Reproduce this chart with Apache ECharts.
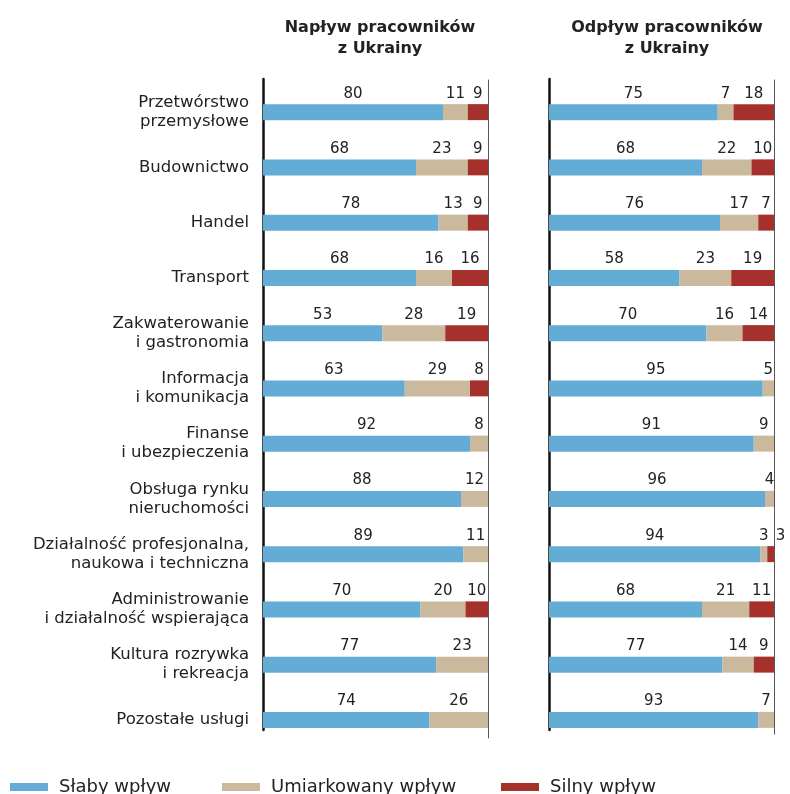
<!DOCTYPE html>
<html><head><meta charset="utf-8">
<script src="https://cdn.jsdelivr.net/npm/echarts@6/dist/echarts.min.js"></script>
<style>html,body{margin:0;padding:0;background:#fff}#c{width:790px;height:794px}</style>
</head><body><div id="c"></div>
<script>
const categories = ['Przetwórstwo\nprzemysłowe','Budownictwo','Handel','Transport','Zakwaterowanie\ni gastronomia','Informacja\ni komunikacja','Finanse\ni ubezpieczenia','Obsługa rynku\nnieruchomości','Działalność profesjonalna,\nnaukowa i techniczna','Administrowanie\ni działalność wspierająca','Kultura rozrywka\ni rekreacja','Pozostałe usługi'];
const seriesNames = ['Słaby wpływ','Umiarkowany wpływ','Silny wpływ'];
const inflowWeak     = [80,68,78,68,53,63,92,88,89,70,77,74];
const inflowModerate = [11,23,13,16,28,29,8,12,11,20,23,26];
const inflowStrong   = [9,9,9,16,19,8,0,0,0,10,0,0];
const outflowWeak     = [75,68,76,58,70,95,91,96,94,68,77,93];
const outflowModerate = [7,22,17,23,16,5,9,4,3,21,14,7];
const outflowStrong   = [18,10,7,19,14,0,0,0,3,11,9,0];
const titles = ['Napływ pracowników\nz Ukrainy','Odpływ pracowników\nz Ukrainy'];

const colors = ['#63acd6','#cbb99e','#a5302c'];
const FONT = '"DejaVu Sans", sans-serif';
const panels = [[inflowWeak,inflowModerate,inflowStrong],[outflowWeak,outflowModerate,outflowStrong]];
const lefts = [263,549];

const grid=[], yAxis=[], xAxis=[], series=[];
panels.forEach((p,gi)=>{
  const gBar = grid.length;
  grid.push({left:lefts[gi],width:225,top:84.5,height:663});
  xAxis.push({type:'value',gridIndex:gBar,min:0,max:100,show:false});
  const yBar = yAxis.length;
  yAxis.push({type:'category',gridIndex:gBar,data:categories,inverse:true,position:'left',
    axisLine:{show:false},axisTick:{show:false},
    axisLabel:{show:gi===0,margin:14,color:'#222',fontSize:16.5,lineHeight:19,fontFamily:FONT,align:'right'}});
  // decorative axis lines
  const gL = grid.length;
  grid.push({left:lefts[gi],width:225,top:79,height:651});
  xAxis.push({type:'value',gridIndex:gL,min:0,max:100,show:false});
  yAxis.push({type:'category',gridIndex:gL,data:categories,inverse:true,position:'left',
    axisLine:{show:true,onZero:false,lineStyle:{color:'#111',width:2.5}},axisTick:{show:false},axisLabel:{show:false}});
  const gR = grid.length;
  grid.push({left:lefts[gi],width:225,top:80,height:gi===0?658:654});
  xAxis.push({type:'value',gridIndex:gR,min:0,max:100,show:false});
  yAxis.push({type:'category',gridIndex:gR,data:categories,inverse:true,position:'right',
    axisLine:{show:true,onZero:false,lineStyle:{color:'#555',width:1}},axisTick:{show:false},axisLabel:{show:false}});
  p.forEach((vals,si)=>{
    series.push({type:'bar',name:seriesNames[si],stack:'s'+gi,xAxisIndex:gBar,yAxisIndex:yBar,
      data:vals,barWidth:16,itemStyle:{color:colors[si]},
      label:{show:true,position:'top',distance:3,color:'#222',fontSize:15,fontFamily:FONT,
        formatter:pp=>pp.value===0?'':String(pp.value)},
      labelLayout: si===2 ? (prm => (prm.rect.width < 10 ? {dx: 10} : {})) : undefined});
  });
});

const legendPos=[10,222,501];
const legend = seriesNames.map((n,i)=>({data:[n],left:legendPos[i],top:778,padding:0,itemWidth:38,itemHeight:8,
  textStyle:{color:'#222',fontSize:18,fontFamily:FONT,padding:[0,0,0,6]},icon:'rect',selectedMode:false}));

const chart = echarts.init(document.getElementById('c'),null,{renderer:'canvas'});
chart.setOption({
  animation:false,
  title:titles.map((t,i)=>({text:t,left:[375,662][i],top:12,textAlign:'center',
    textStyle:{fontSize:16,fontWeight:'bold',color:'#222',lineHeight:21,fontFamily:FONT}})),
  legend, grid, xAxis, yAxis, series
});
</script></body></html>
